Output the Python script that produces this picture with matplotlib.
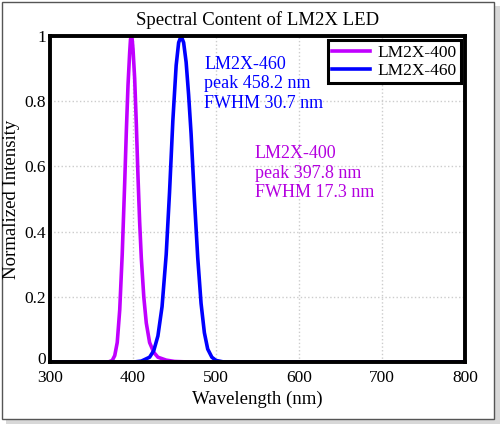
import matplotlib
matplotlib.use("Agg")
import matplotlib.pyplot as plt
import matplotlib.transforms as mtransforms
from matplotlib.patches import Rectangle

# spectra (wavelength nm, normalized intensity)
wl_400 = [300, 370, 375, 378, 381, 384, 387, 390, 392, 394, 396, 397, 398, 399, 400, 402,
          404, 406, 408, 410, 413, 416, 420, 425, 430, 440, 450, 470, 800]
int_400 = [0, 0, 0.005, 0.02, 0.06, 0.16, 0.33, 0.55, 0.71, 0.85, 0.95, 0.99, 1.0, 0.99,
           0.96, 0.87, 0.73, 0.57, 0.43, 0.32, 0.2, 0.12, 0.06, 0.03, 0.015, 0.006, 0.002,
           0, 0]

wl_460 = [300, 400, 410, 420, 425, 430, 435, 440, 444, 448, 452, 455, 458, 461, 464, 467,
          470, 474, 478, 482, 486, 490, 495, 500, 510, 800]
int_460 = [0, 0, 0.003, 0.015, 0.035, 0.08, 0.17, 0.33, 0.52, 0.74, 0.91, 0.98, 1.0, 0.98,
           0.92, 0.82, 0.7, 0.5, 0.32, 0.18, 0.09, 0.04, 0.015, 0.005, 0, 0]

purple = "#c000ff"
blue = "#0000ff"

plt.rcParams['font.family'] = ['Liberation Serif', 'DejaVu Serif']

fig = plt.figure(figsize=(5, 4.24), dpi=100)
# outer frame with a light shadow
fig.patches.append(Rectangle((0.012, 0.0), 0.988, 0.985, transform=fig.transFigure,
                             facecolor="#d8d8d8", edgecolor="none", zorder=-2))
fig.patches.append(Rectangle((0.004, 0.012), 0.984, 0.983, transform=fig.transFigure,
                             facecolor="white", edgecolor="#555555", lw=1, zorder=-1))

ax = fig.add_axes([0.1, 0.146, 0.83, 0.769])
ax.plot(wl_400, int_400, color=purple, lw=2.6, label="LM2X-400")
ax.plot(wl_460, int_460, color=blue, lw=2.6, label="LM2X-460")

ax.set_xlim(300, 800)
ax.set_ylim(0, 1)
ax.set_xticks([300, 400, 500, 600, 700, 800])
ax.set_yticks([0, 0.2, 0.4, 0.6, 0.8, 1])
ax.set_yticklabels(["0", "0.2", "0.4", "0.6", "0.8", "1"])
ax.tick_params(length=0, labelsize=12.5)
ax.tick_params(axis="x", pad=6)
ax.tick_params(axis="y", pad=3)
ax.grid(True, color="#cccccc", linestyle=":", lw=1)
for s in ax.spines.values():
    s.set_linewidth(2.8)

# nudge the y "0" up a little so it clears the "300" below
lbl0 = ax.get_yticklabels()[0]
lbl0.set_transform(lbl0.get_transform() +
                   mtransforms.ScaledTranslation(0, 3 / 72, fig.dpi_scale_trans))

ax.set_title("Spectral Content of LM2X LED", fontsize=13.5, pad=8)
ax.set_xlabel("Wavelength (nm)", fontsize=13.5, labelpad=3)
ax.set_ylabel("Normalized Intensity", fontsize=13.5, labelpad=3)

ax.text(486, 0.94, "LM2X-460\npeak 458.2 nm\nFWHM 30.7 nm", color=blue,
        fontsize=13, va="top", linespacing=1.2)
ax.text(547, 0.665, "LM2X-400\npeak 397.8 nm\nFWHM 17.3 nm", color="#b400e0",
        fontsize=13, va="top", linespacing=1.2)

leg = ax.legend(loc="upper right", fontsize=12.5, fancybox=False, framealpha=1,
                handlelength=2.2, borderpad=0.25, labelspacing=0.1, handletextpad=0.4,
                borderaxespad=0.25)
leg.get_frame().set_edgecolor("black")
leg.get_frame().set_linewidth(2.2)

fig.savefig("out.png", dpi=100)
